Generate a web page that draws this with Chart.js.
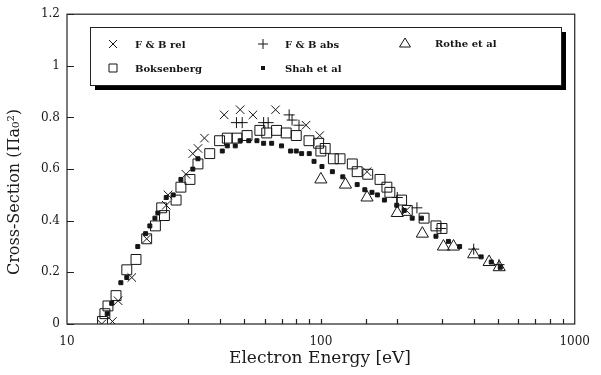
<!DOCTYPE html>
<html>
<head>
<meta charset="utf-8">
<script src="https://cdn.jsdelivr.net/npm/chart.js@4.4.1/dist/chart.umd.min.js"></script>
<style>
  html, body { margin: 0; padding: 0; background: #ffffff; }
  #wrap { width: 601px; height: 375px; position: relative; }
</style>
</head>
<body>
<div id="wrap"><canvas id="c" width="601" height="375"></canvas></div>
<script>
// ---- data ----
const seriesNames = ['F & B rel', 'F & B abs', 'Rothe et al', 'Boksenberg', 'Shah et al'];

const fbRelEnergy = [13.7, 15.1, 15.9, 18.0, 20.6, 24.6, 25.0, 29.4, 31.3, 32.8, 34.8, 41.6, 48.1, 54.0, 66.3, 87.4, 99, 152, 217];
const fbRelValue  = [0.00, 0.01, 0.09, 0.18, 0.33, 0.46, 0.50, 0.58, 0.66, 0.68, 0.72, 0.81, 0.83, 0.81, 0.83, 0.77, 0.73, 0.59, 0.44];

const fbAbsEnergy = [46.5, 49, 59.5, 62, 75, 77, 82, 200, 239, 297, 400, 503];
const fbAbsValue  = [0.78, 0.78, 0.78, 0.78, 0.81, 0.79, 0.77, 0.49, 0.45, 0.37, 0.29, 0.23];

const rotheEnergy = [100, 125, 152, 200, 251, 304, 333, 400, 460, 504];
const rotheValue  = [0.56, 0.54, 0.49, 0.43, 0.35, 0.30, 0.30, 0.27, 0.24, 0.22];

const boksEnergy = [13.8, 14.1, 14.5, 15.6, 17.2, 18.7, 20.6, 22.3, 23.6, 24.2, 26.9, 28.1, 30.5, 32.8, 36.5, 39.9, 42.8, 46.7, 51.2, 57.5, 61.2, 66.9, 73, 80, 89.8, 98, 100, 104, 112, 119, 133, 139, 153, 171, 182, 187, 208, 219, 255, 284, 300];
const boksValue  = [0.01, 0.04, 0.07, 0.11, 0.21, 0.25, 0.33, 0.38, 0.45, 0.42, 0.48, 0.53, 0.56, 0.62, 0.66, 0.71, 0.72, 0.72, 0.73, 0.75, 0.74, 0.75, 0.74, 0.73, 0.71, 0.70, 0.67, 0.68, 0.64, 0.64, 0.62, 0.59, 0.58, 0.56, 0.53, 0.51, 0.48, 0.44, 0.41, 0.38, 0.37];

const shahEnergy = [14.4, 15.0, 16.3, 17.2, 19.0, 20.4, 21.2, 22.2, 22.8, 24.6, 26.2, 28.1, 31.3, 32.8, 40.9, 42.8, 46, 48.1, 52, 56, 59.5, 64, 70, 76, 80, 84, 90, 94, 101, 111, 122, 139, 149, 159, 167, 178, 199, 213, 229, 249, 284, 318, 352, 428, 469, 509];
const shahValue  = [0.04, 0.08, 0.16, 0.18, 0.30, 0.35, 0.38, 0.41, 0.43, 0.49, 0.50, 0.56, 0.60, 0.64, 0.67, 0.69, 0.69, 0.71, 0.71, 0.71, 0.70, 0.70, 0.69, 0.67, 0.67, 0.66, 0.66, 0.63, 0.61, 0.59, 0.57, 0.54, 0.52, 0.51, 0.50, 0.48, 0.46, 0.44, 0.41, 0.41, 0.34, 0.32, 0.30, 0.26, 0.24, 0.22];

const xTickLabels = ['10', '100', '1000'];
const yTickLabels = ['0', '0.2', '0.4', '0.6', '0.8', '1', '1.2'];
const xAxisTitle = 'Electron Energy [eV]';
const yAxisTitle = 'Cross-Section (\u03A0a\u2080\u00B2)';

// ---- helpers ----
function pts(xs, ys) { return xs.map((v, i) => ({ x: v, y: ys[i] })); }
const INK = '#151515';

function drawSymbol(ctx, kind, x, y, s) {
  ctx.beginPath();
  if (kind === 'crossRot') {
    ctx.moveTo(x - s, y - s); ctx.lineTo(x + s, y + s);
    ctx.moveTo(x - s, y + s); ctx.lineTo(x + s, y - s);
    ctx.stroke();
  } else if (kind === 'cross') {
    ctx.moveTo(x - s, y); ctx.lineTo(x + s, y);
    ctx.moveTo(x, y - s); ctx.lineTo(x, y + s);
    ctx.stroke();
  } else if (kind === 'triangle') {
    ctx.moveTo(x, y - s); ctx.lineTo(x + s * 1.1, y + s * 0.8); ctx.lineTo(x - s * 1.1, y + s * 0.8); ctx.closePath();
    ctx.stroke();
  } else if (kind === 'rect') {
    ctx.rect(x - s, y - s, 2 * s, 2 * s); ctx.stroke();
  } else if (kind === 'fill') {
    ctx.fillRect(x - s, y - s, 2 * s, 2 * s);
  }
}

const framePlugin = {
  id: 'frameAndLegend',
  afterDraw(chart) {
    const { ctx, chartArea: a, scales } = chart;
    const xs = scales.x, ys = scales.y;
    ctx.save();
    ctx.strokeStyle = '#222';
    ctx.lineWidth = 1.2;
    ctx.strokeRect(a.left, a.top, a.right - a.left, a.bottom - a.top);
    ctx.beginPath();
    ys.ticks.forEach(t => {
      const py = Math.round(ys.getPixelForValue(t.value)) + 0.5;
      ctx.moveTo(a.left, py); ctx.lineTo(a.left + 7, py);
    });
    xs.ticks.forEach(t => {
      if (t.value > 10 && t.value < 1000) {
        const px = Math.round(xs.getPixelForValue(t.value)) + 0.5;
        ctx.moveTo(px, a.bottom); ctx.lineTo(px, a.bottom - 5);
      }
    });
    ctx.stroke();

    // axis titles
    ctx.fillStyle = '#1a1a1a';
    ctx.textAlign = 'center';
    ctx.textBaseline = 'middle';
    ctx.font = '17px "DejaVu Serif"';
    ctx.fillText(xAxisTitle, 320, 359);
    ctx.font = '16px "DejaVu Serif"';
    ctx.save();
    ctx.translate(15, 192);
    ctx.rotate(-Math.PI / 2);
    ctx.fillText(yAxisTitle, 0, 0);
    ctx.restore();

    // legend box with drop shadow
    const bx = 90, by = 27, bw = 471, bh = 58;
    ctx.fillStyle = '#000';
    ctx.fillRect(bx + 5, by + 5, bw, bh);
    ctx.fillStyle = '#fff';
    ctx.fillRect(bx, by, bw, bh);
    ctx.lineWidth = 1;
    ctx.strokeStyle = '#222';
    ctx.strokeRect(bx + 0.5, by + 0.5, bw, bh);

    const items = [
      { k: 'crossRot', s: 4, x: 113, y: 44, t: seriesNames[0] },
      { k: 'cross', s: 5, x: 263, y: 44, t: seriesNames[1] },
      { k: 'triangle', s: 5, x: 405, y: 43, t: seriesNames[2] },
      { k: 'rect', s: 4, x: 113, y: 68, t: seriesNames[3] },
      { k: 'fill', s: 2, x: 263, y: 68, t: seriesNames[4] }
    ];
    ctx.font = 'bold 10px "DejaVu Serif"';
    ctx.textAlign = 'left';
    items.forEach(it => {
      ctx.strokeStyle = INK; ctx.fillStyle = INK; ctx.lineWidth = 1;
      drawSymbol(ctx, it.k, it.x, it.y, it.s);
      ctx.fillText(it.t, it.x + 22 + (it.k === 'triangle' ? 8 : 0), it.y + 1);
    });
    ctx.restore();
  }
};

const common = { borderColor: INK, pointBorderWidth: 1, showLine: false };

new Chart(document.getElementById('c'), {
  type: 'scatter',
  data: {
    datasets: [
      Object.assign({ label: seriesNames[0], data: pts(fbRelEnergy, fbRelValue), pointStyle: 'crossRot', pointRadius: 6, backgroundColor: 'rgba(0,0,0,0)' }, common),
      Object.assign({ label: seriesNames[1], data: pts(fbAbsEnergy, fbAbsValue), pointStyle: 'cross', pointRadius: 5.5, backgroundColor: 'rgba(0,0,0,0)' }, common),
      Object.assign({ label: seriesNames[2], data: pts(rotheEnergy, rotheValue), pointStyle: 'triangle', pointRadius: 7, backgroundColor: 'rgba(0,0,0,0)' }, common),
      Object.assign({ label: seriesNames[3], data: pts(boksEnergy, boksValue), pointStyle: 'rect', pointRadius: 7, backgroundColor: 'rgba(0,0,0,0)' }, common),
      Object.assign({ label: seriesNames[4], data: pts(shahEnergy, shahValue), pointStyle: 'rect', pointRadius: 2.8, backgroundColor: INK }, common)
    ]
  },
  options: {
    responsive: false,
    animation: false,
    events: [],
    layout: { padding: { top: 11, right: 18, left: 0, bottom: 0 } },
    plugins: { legend: { display: false }, tooltip: { enabled: false } },
    scales: {
      x: {
        type: 'logarithmic', min: 10, max: 1000,
        grid: { display: false, drawTicks: false },
        border: { display: false },
        afterFit: s => { s.height = 51; },
        ticks: {
          autoSkip: false, maxRotation: 0, padding: 11, color: '#1a1a1a',
          font: { family: 'DejaVu Serif', size: 12 },
          callback: v => { const i = xTickLabels.indexOf(String(v)); return i >= 0 ? xTickLabels[i] : ''; }
        }
      },
      y: {
        min: 0, max: 1.2,
        grid: { display: false, drawTicks: false },
        border: { display: false },
        afterFit: s => { s.width = 67; },
        ticks: {
          stepSize: 0.2, padding: 7, color: '#1a1a1a',
          font: { family: 'DejaVu Serif', size: 12 },
          callback: (v, i) => yTickLabels[i]
        }
      }
    }
  },
  plugins: [framePlugin]
});
</script>
</body>
</html>
